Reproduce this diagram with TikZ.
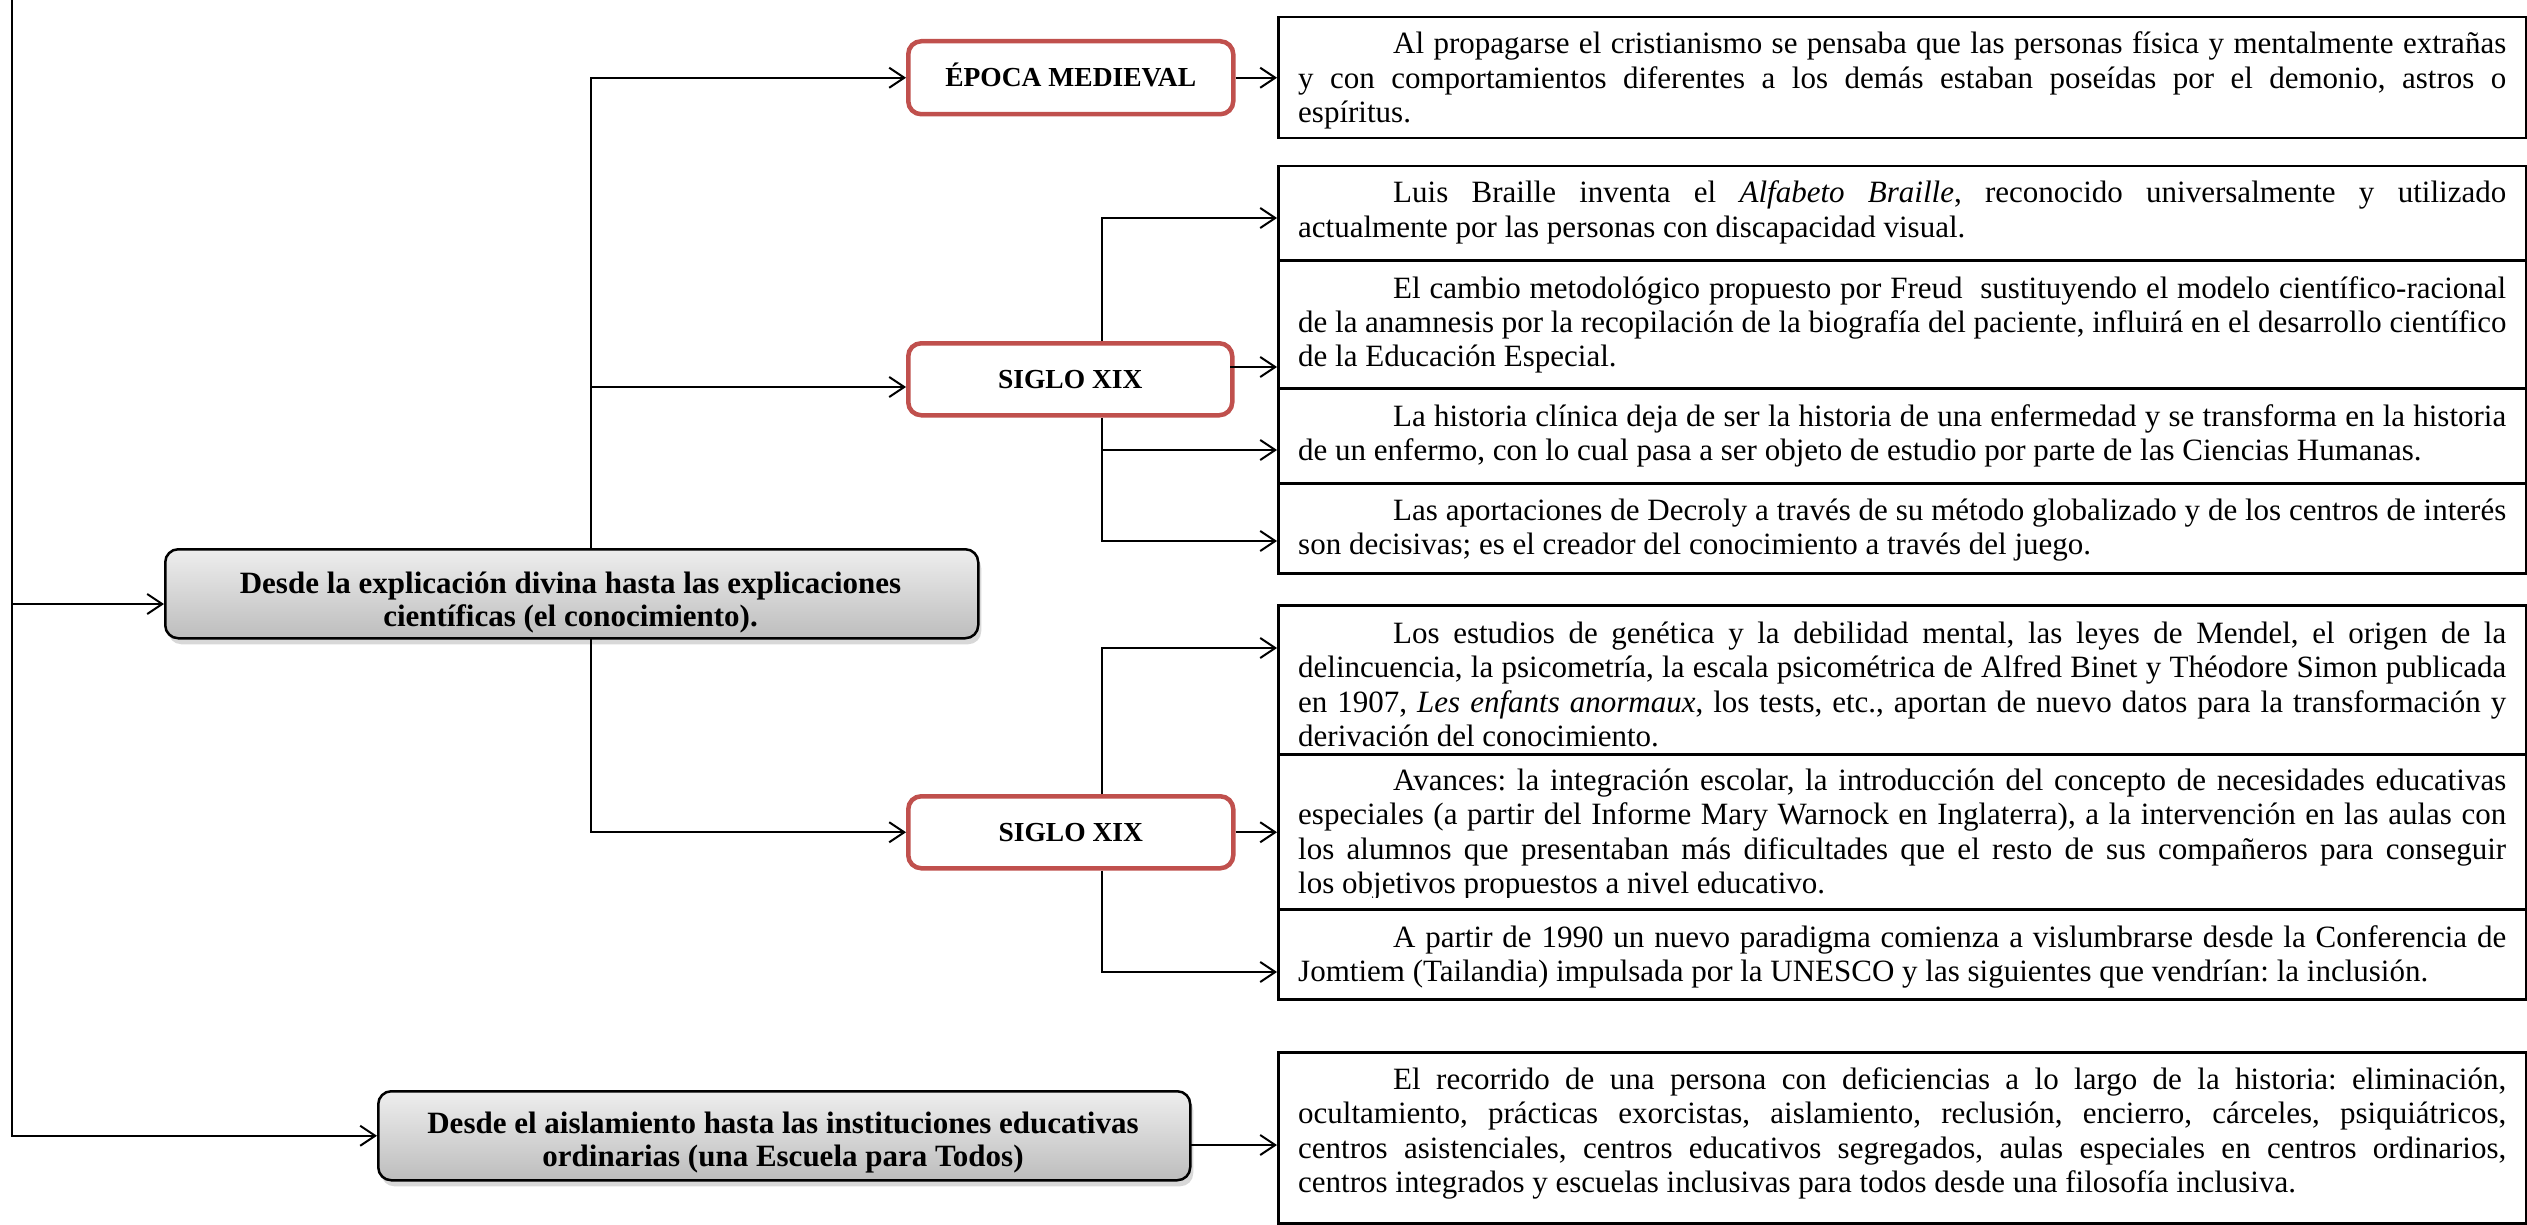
\documentclass[tikz,border=0pt]{standalone}
\usepackage{fontspec}
\setmainfont{Liberation Serif}
\usepackage{graphicx}
\usetikzlibrary{arrows.meta,shadows}
\definecolor{redb}{HTML}{C0504D}
\definecolor{gtop}{HTML}{EEEEEE}
\definecolor{gbot}{HTML}{BDBDBD}
\newsavebox\jlbox
\newcommand{\jl}[1]{\sbox\jlbox{#1}\ifdim\wd\jlbox>1208pt \resizebox{1208pt}{\height}{\usebox\jlbox}\else\makebox[1208pt][s]{#1}\fi\\}
\newcommand{\ind}{\hspace*{95pt}}
\frenchspacing
\tikzset{
  ln/.style={draw, line width=2pt},
  arr/.style={draw, line width=2pt, -{Straight Barb[length=15pt,width=20pt]}},
  tbox/.style={draw, fill=white, line width=2.5pt, inner sep=0pt, anchor=north west},
  txt/.style={anchor=base west, inner sep=0pt, font=\fontsize{31pt}{34.5pt}\selectfont},
  redbox/.style={draw=redb, fill=white, line width=4.5pt, rounded corners=13pt, inner sep=0pt, anchor=north west, font=\bfseries\fontsize{27.5pt}{30pt}\selectfont, text height=18.5pt, text depth=0pt},
  graybox/.style={draw=black, line width=2.5pt, rounded corners=13pt, top color=gtop, bottom color=gbot, inner sep=0pt, anchor=north west,
    drop shadow={opacity=0.3, shadow xshift=3pt, shadow yshift=-6pt}},
  gtxt/.style={anchor=base, inner sep=0pt, font=\bfseries\fontsize{31pt}{33pt}\selectfont}
}
\begin{document}
\begin{tikzpicture}[x=1pt,y=-1pt]
\fill[white] (0,0) rectangle (2527,1225);
\useasboundingbox (0,0) rectangle (2527,1225);

% text boxes
\node[tbox, minimum width=1248pt, minimum height=121pt] (bM) at (1277,16) {};
\node[tbox, minimum width=1248pt, minimum height=94pt] (bB) at (1277,165) {};
\node[tbox, minimum width=1248pt, minimum height=128pt] (bF) at (1277,259) {};
\node[tbox, minimum width=1248pt, minimum height=95pt] (bH) at (1277,387) {};
\node[tbox, minimum width=1248pt, minimum height=90pt] (bD) at (1277,482) {};
\node[tbox, minimum width=1248pt, minimum height=149pt] (bE) at (1277,604) {};
\node[tbox, minimum width=1248pt, minimum height=155pt] (bA) at (1277,753) {};
\node[tbox, minimum width=1248pt, minimum height=90pt] (bP) at (1277,908) {};
\node[tbox, minimum width=1248pt, minimum height=171pt] (bR) at (1277,1051) {};

% texts
\node[txt] (tM) at (1298,54) {\parbox[t]{1208pt}{%
\jl{\ind Al propagarse el cristianismo se pensaba que las personas física y mentalmente extrañas}
\jl{y con comportamientos diferentes a los demás estaban poseídas por el demonio, astros o}
espíritus.}};
\node[txt] (tB) at (1298,203) {\parbox[t]{1208pt}{%
\jl{\ind Luis Braille inventa el \textit{Alfabeto Braille}, reconocido universalmente y utilizado}
actualmente por las personas con discapacidad visual.}};
\node[txt] (tF) at (1298,298) {\parbox[t]{1208pt}{%
\jl{\ind El cambio metodológico propuesto por Freud\ \ sustituyendo el modelo científico-racional}
\jl{de la anamnesis por la recopilación de la biografía del paciente, influirá en el desarrollo científico}
de la Educación Especial.}};
\node[txt] (tH) at (1298,426) {\parbox[t]{1208pt}{%
\jl{\ind La historia clínica deja de ser la historia de una enfermedad y se transforma en la historia}
de un enfermo, con lo cual pasa a ser objeto de estudio por parte de las Ciencias Humanas.}};
\node[txt] (tD) at (1298,520) {\parbox[t]{1208pt}{%
\jl{\ind Las aportaciones de Decroly a través de su método globalizado y de los centros de interés}
son decisivas; es el creador del conocimiento a través del juego.}};
\node[txt] (tE) at (1298,643) {\parbox[t]{1208pt}{%
\jl{\ind Los estudios de genética y la debilidad mental, las leyes de Mendel, el origen de la}
\jl{delincuencia, la psicometría, la escala psicométrica de Alfred Binet y Théodore Simon publicada}
\jl{en 1907, \textit{Les enfants anormaux}, los tests, etc., aportan de nuevo datos para la transformación y}
derivación del conocimiento.}};
\begin{scope}
\clip (1277,753) rectangle (2526,897);
\node[txt] (tA) at (1298,790) {\parbox[t]{1208pt}{%
\jl{\ind Avances: la integración escolar, la introducción del concepto de necesidades educativas}
\jl{especiales (a partir del Informe Mary Warnock en Inglaterra), a la intervención en las aulas con}
\jl{los alumnos que presentaban más dificultades que el resto de sus compañeros para conseguir}
los objetivos propuestos a nivel educativo.}};
\end{scope}
\node[txt] (tP) at (1298,947) {\parbox[t]{1208pt}{%
\jl{\ind A partir de 1990 un nuevo paradigma comienza a vislumbrarse desde la Conferencia de}
Jomtiem (Tailandia) impulsada por la UNESCO y las siguientes que vendrían: la inclusión.}};
\node[txt] (tR) at (1298,1089) {\parbox[t]{1208pt}{%
\jl{\ind El recorrido de una persona con deficiencias a lo largo de la historia: eliminación,}
\jl{ocultamiento, prácticas exorcistas, aislamiento, reclusión, encierro, cárceles, psiquiátricos,}
\jl{centros asistenciales, centros educativos segregados, aulas especiales en centros ordinarios,}
centros integrados y escuelas inclusivas para todos desde una filosofía inclusiva.}};

% red boxes
\node[redbox, minimum width=325pt, minimum height=73pt] (e1) at (906,39) {ÉPOCA MEDIEVAL};
\node[redbox, minimum width=324pt, minimum height=72pt] (s1) at (906,341) {SIGLO XIX};
\node[redbox, minimum width=325pt, minimum height=72pt] (s2) at (906,794) {SIGLO XIX};

% gray boxes
\node[graybox, minimum width=813pt, minimum height=89pt] (g1) at (164,548) {};
\node[graybox, minimum width=812pt, minimum height=89pt] (g2) at (377,1090) {};
\node[gtxt] (g1t1) at (570.5,593) {Desde la explicación divina hasta las explicaciones};
\node[gtxt] (g1t2) at (570.5,626) {científicas (el conocimiento).};
\node[gtxt] (g2t1) at (783,1133) {Desde el aislamiento hasta las instituciones educativas};
\node[gtxt] (g2t2) at (783,1166) {ordinarias (una Escuela para Todos)};

% coordinates
\coordinate (T0) at (12,0);
\coordinate (g1in) at (164,604);
\coordinate (g1top) at (591,548);
\coordinate (g1bot) at (591,637);
\coordinate (s1in) at (906,387);
\coordinate (s1o) at (1230,367);
\coordinate (v1) at (1102,218);
\coordinate (v3) at (1102,450);
\coordinate (v2) at (1102,541);
\coordinate (w1) at (1102,648);
\coordinate (w2) at (1102,972);
\coordinate (g2o) at (1189,1145);

% connectors
\draw[arr] (T0) |- (g2.west);
\draw[arr] (T0 |- g1in) -- (g1in);
\draw[arr] (g1top) |- (e1.west);
\draw[arr] (g1top |- s1in) -- (s1in);
\draw[arr] (g1bot) |- (s2.west);
\draw[arr] (e1.east) -- (e1.east -| bM.west);
\draw[arr] (s1o) -- (s1o -| bF.west);
\draw[arr] (v1 |- s1.north) -- (v1) -- (v1 -| bB.west);
\draw[arr] (v2 |- s1.south) -- (v2) -- (v2 -| bD.west);
\draw[arr] (v3) -- (v3 -| bH.west);
\draw[arr] (w1 |- s2.north) -- (w1) -- (w1 -| bE.west);
\draw[arr] (w2 |- s2.south) -- (w2) -- (w2 -| bP.west);
\draw[arr] (s2.east) -- (s2.east -| bA.west);
\draw[arr] (g2o) -- (g2o -| bR.west);
\end{tikzpicture}
\end{document}
